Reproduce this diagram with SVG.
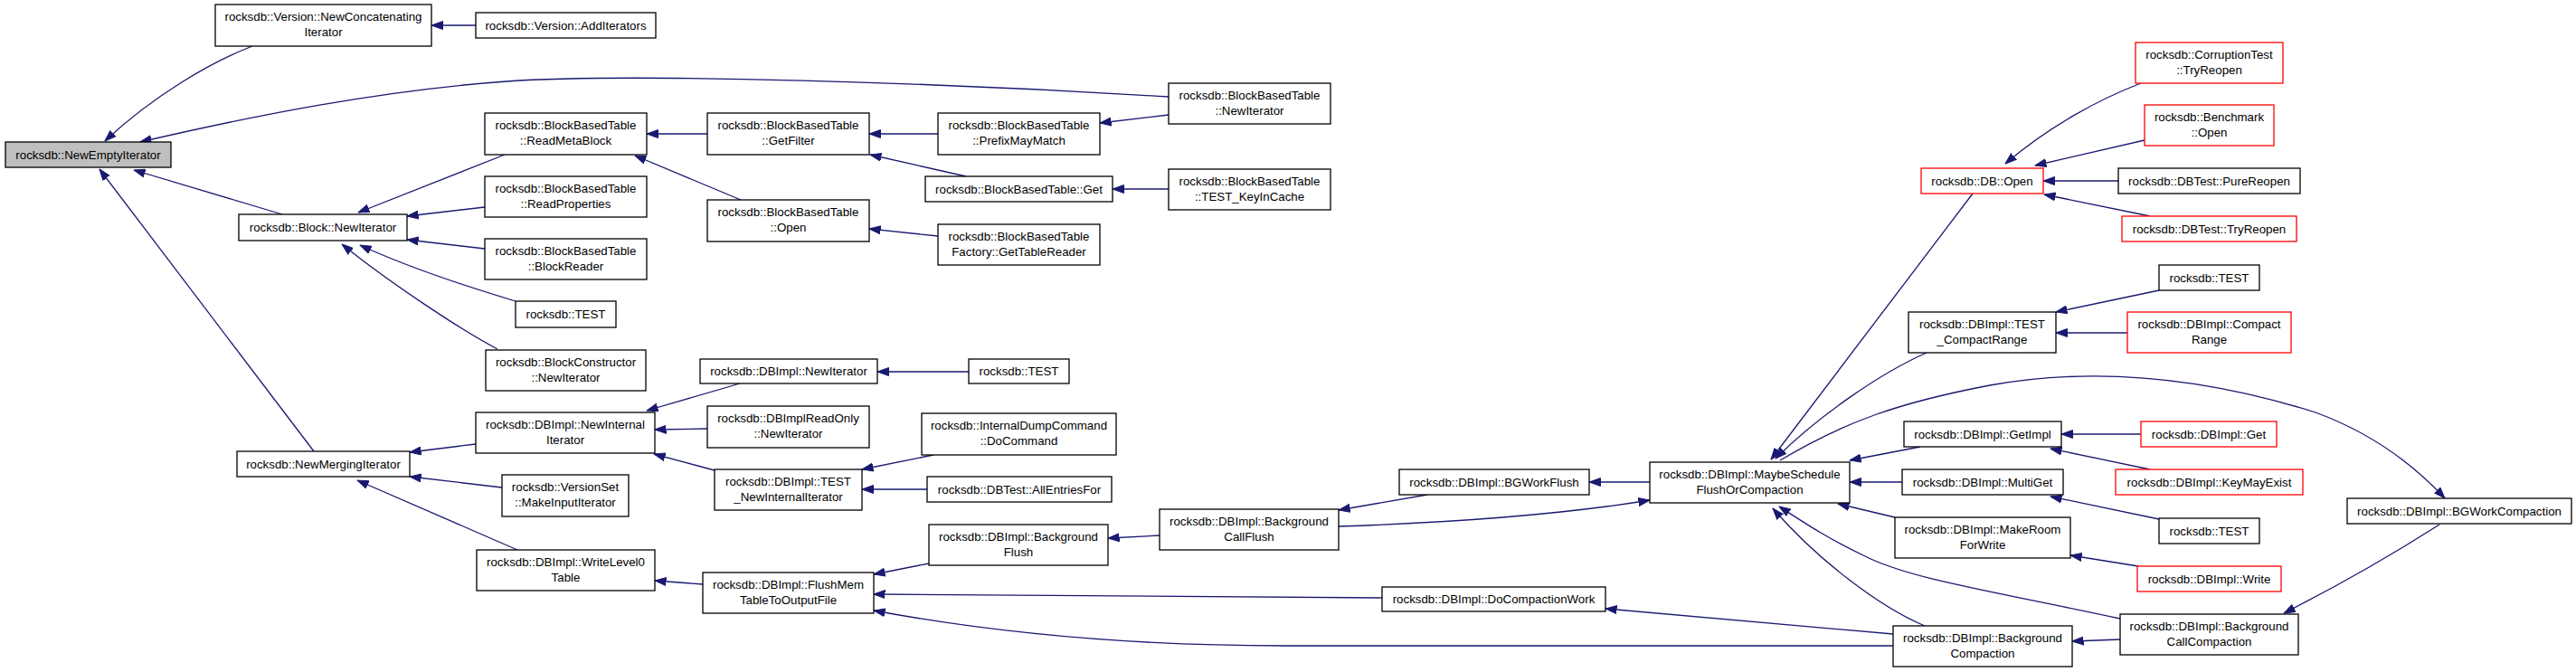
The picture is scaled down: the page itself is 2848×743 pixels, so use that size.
<svg xmlns="http://www.w3.org/2000/svg" width="2848" height="743" viewBox="0 0 2848 743">
<style>
.n rect{fill:#fff;stroke:#000;stroke-width:1.3}
.n.r rect{stroke:#ff0000}
.n.root rect{fill:#bfbfbf}
.n text{font-family:"Liberation Sans",Arial,sans-serif;font-size:13.3px;fill:#000;text-anchor:middle}
#edges path{fill:none;stroke:#191970;stroke-width:1.3;marker-end:url(#a)}
</style>
<defs>
<marker id="a" markerUnits="userSpaceOnUse" viewBox="0 0 13 10" markerWidth="13" markerHeight="10" refX="12.5" refY="5" orient="auto"><path d="M0,0.5 L12.5,5 L0,9.5z" fill="#191970" stroke="#191970" stroke-width="1"/></marker>
</defs>
<rect width="2848" height="743" fill="#fff"/>
<g id="edges">
<path d="M279,51 C235,68 170,105 116,156"/>
<path d="M1292,107 C1050,92 700,80 560,90 C420,100 280,128 155,157"/>
<path d="M312,237 L148,188"/>
<path d="M347,499 L110,187"/>
<path d="M526,28 L477,28"/>
<path d="M558,171 L396,235"/>
<path d="M536,229 L450,239"/>
<path d="M536,275 L450,265"/>
<path d="M570,333 C520,318 450,295 398,271"/>
<path d="M550,386 C510,365 430,312 378,270"/>
<path d="M782,148 L715,148"/>
<path d="M819,221 L702,172"/>
<path d="M1037,148 L961,148"/>
<path d="M1068,195 L962,171"/>
<path d="M1037,261 L961,253"/>
<path d="M1292,127 L1216,136"/>
<path d="M1292,209 L1230,209"/>
<path d="M526,491 L453,500"/>
<path d="M555,539 L453,527"/>
<path d="M572,608 L395,531"/>
<path d="M818,424 L715,454"/>
<path d="M782,474 L724,475"/>
<path d="M790,520 L723,502"/>
<path d="M1071,411 L970,411"/>
<path d="M1032,503 L953,519"/>
<path d="M1025,541 L953,541"/>
<path d="M777,646 L724,642"/>
<path d="M1027,623 L966,635"/>
<path d="M1528,661 C1300,660 1100,658 966,657"/>
<path d="M2093,714 L1420,714 C1250,714 1100,700 966,675"/>
<path d="M1282,592 L1225,595"/>
<path d="M1578,547 L1480,564"/>
<path d="M1824,533 L1757,533"/>
<path d="M1480,582 C1600,578 1720,570 1824,553"/>
<path d="M2093,701 L1775,673"/>
<path d="M2181,214 L1958,508"/>
<path d="M2130,390 C2080,412 2010,460 1963,507"/>
<path d="M1968,509 C2040,466 2100,445 2200,426 C2300,408 2420,412 2560,456 C2620,478 2665,510 2703,551"/>
<path d="M2123,494 L2045,509"/>
<path d="M2103,533 L2045,533"/>
<path d="M2095,572 L2032,557"/>
<path d="M2344,684 C2200,653 2110,640 2060,614 C2020,595 1995,578 1967,560"/>
<path d="M2128,692 C2080,672 2010,620 1960,562"/>
<path d="M2344,707 L2291,709"/>
<path d="M2697,580 C2650,610 2590,645 2525,678"/>
<path d="M2367,92 C2320,110 2265,140 2217,181"/>
<path d="M2371,155 L2250,183"/>
<path d="M2342,200 L2259,200"/>
<path d="M2377,239 L2260,215"/>
<path d="M2387,321 L2273,345"/>
<path d="M2352,368 L2273,368"/>
<path d="M2367,480 L2279,480"/>
<path d="M2377,519 L2267,496"/>
<path d="M2387,574 L2267,549"/>
<path d="M2364,626 L2289,614"/>
</g>
<g id="n0" class="n root"><rect x="6" y="157" width="183" height="28"/><text x="97.5" y="175.5">rocksdb::NewEmptyIterator</text></g>
<g id="n1" class="n"><rect x="238" y="5" width="239" height="46"/><text x="357.5" y="23">rocksdb::Version::NewConcatenating</text><text x="357.5" y="40">Iterator</text></g>
<g id="n2" class="n"><rect x="526" y="14" width="199" height="28"/><text x="625.5" y="32.5">rocksdb::Version::AddIterators</text></g>
<g id="n3" class="n"><rect x="1292" y="92" width="179" height="45"/><text x="1381.5" y="110">rocksdb::BlockBasedTable</text><text x="1381.5" y="127">::NewIterator</text></g>
<g id="n4" class="n"><rect x="264" y="237" width="186" height="29"/><text x="357" y="255.5">rocksdb::Block::NewIterator</text></g>
<g id="n5" class="n"><rect x="536" y="125" width="179" height="46"/><text x="625.5" y="143">rocksdb::BlockBasedTable</text><text x="625.5" y="160">::ReadMetaBlock</text></g>
<g id="n6" class="n"><rect x="536" y="195" width="179" height="45"/><text x="625.5" y="213">rocksdb::BlockBasedTable</text><text x="625.5" y="230">::ReadProperties</text></g>
<g id="n7" class="n"><rect x="536" y="264" width="179" height="45"/><text x="625.5" y="282">rocksdb::BlockBasedTable</text><text x="625.5" y="299">::BlockReader</text></g>
<g id="n8" class="n"><rect x="570" y="333" width="111" height="29"/><text x="625.5" y="351.5">rocksdb::TEST</text></g>
<g id="n9" class="n"><rect x="537" y="387" width="177" height="45"/><text x="625.5" y="405">rocksdb::BlockConstructor</text><text x="625.5" y="422">::NewIterator</text></g>
<g id="n10" class="n"><rect x="782" y="125" width="179" height="46"/><text x="871.5" y="143">rocksdb::BlockBasedTable</text><text x="871.5" y="160">::GetFilter</text></g>
<g id="n11" class="n"><rect x="782" y="221" width="179" height="46"/><text x="871.5" y="239">rocksdb::BlockBasedTable</text><text x="871.5" y="256">::Open</text></g>
<g id="n12" class="n"><rect x="1037" y="125" width="179" height="46"/><text x="1126.5" y="143">rocksdb::BlockBasedTable</text><text x="1126.5" y="160">::PrefixMayMatch</text></g>
<g id="n13" class="n"><rect x="1023" y="195" width="207" height="28"/><text x="1126.5" y="213.5">rocksdb::BlockBasedTable::Get</text></g>
<g id="n14" class="n"><rect x="1292" y="187" width="179" height="45"/><text x="1381.5" y="205">rocksdb::BlockBasedTable</text><text x="1381.5" y="222">::TEST_KeyInCache</text></g>
<g id="n15" class="n"><rect x="1037" y="248" width="179" height="45"/><text x="1126.5" y="266">rocksdb::BlockBasedTable</text><text x="1126.5" y="283">Factory::GetTableReader</text></g>
<g id="n16" class="n"><rect x="262" y="499" width="191" height="28"/><text x="357.5" y="517.5">rocksdb::NewMergingIterator</text></g>
<g id="n17" class="n"><rect x="526" y="456" width="198" height="45"/><text x="625" y="474">rocksdb::DBImpl::NewInternal</text><text x="625" y="491">Iterator</text></g>
<g id="n18" class="n"><rect x="555" y="525" width="140" height="46"/><text x="625" y="543">rocksdb::VersionSet</text><text x="625" y="560">::MakeInputIterator</text></g>
<g id="n19" class="n"><rect x="527" y="608" width="197" height="45"/><text x="625.5" y="626">rocksdb::DBImpl::WriteLevel0</text><text x="625.5" y="643">Table</text></g>
<g id="n20" class="n"><rect x="774" y="397" width="196" height="27"/><text x="872" y="415">rocksdb::DBImpl::NewIterator</text></g>
<g id="n21" class="n"><rect x="782" y="449" width="179" height="46"/><text x="871.5" y="467">rocksdb::DBImplReadOnly</text><text x="871.5" y="484">::NewIterator</text></g>
<g id="n22" class="n"><rect x="790" y="519" width="163" height="45"/><text x="871.5" y="537">rocksdb::DBImpl::TEST</text><text x="871.5" y="554">_NewInternalIterator</text></g>
<g id="n23" class="n"><rect x="777" y="633" width="189" height="45"/><text x="871.5" y="651">rocksdb::DBImpl::FlushMem</text><text x="871.5" y="668">TableToOutputFile</text></g>
<g id="n24" class="n"><rect x="1071" y="397" width="111" height="27"/><text x="1126.5" y="415">rocksdb::TEST</text></g>
<g id="n25" class="n"><rect x="1019" y="457" width="215" height="46"/><text x="1126.5" y="475">rocksdb::InternalDumpCommand</text><text x="1126.5" y="492">::DoCommand</text></g>
<g id="n26" class="n"><rect x="1025" y="527" width="204" height="28"/><text x="1127" y="545.5">rocksdb::DBTest::AllEntriesFor</text></g>
<g id="n27" class="n"><rect x="1027" y="580" width="198" height="45"/><text x="1126" y="598">rocksdb::DBImpl::Background</text><text x="1126" y="615">Flush</text></g>
<g id="n28" class="n"><rect x="1282" y="563" width="198" height="45"/><text x="1381" y="581">rocksdb::DBImpl::Background</text><text x="1381" y="598">CallFlush</text></g>
<g id="n29" class="n"><rect x="1547" y="519" width="210" height="28"/><text x="1652" y="537.5">rocksdb::DBImpl::BGWorkFlush</text></g>
<g id="n30" class="n"><rect x="1824" y="511" width="221" height="45"/><text x="1934.5" y="529">rocksdb::DBImpl::MaybeSchedule</text><text x="1934.5" y="546">FlushOrCompaction</text></g>
<g id="n31" class="n"><rect x="1528" y="649" width="247" height="27"/><text x="1651.5" y="667">rocksdb::DBImpl::DoCompactionWork</text></g>
<g id="n32" class="n r"><rect x="2124" y="186" width="135" height="28"/><text x="2191.5" y="204.5">rocksdb::DB::Open</text></g>
<g id="n33" class="n"><rect x="2110" y="345" width="163" height="45"/><text x="2191.5" y="363">rocksdb::DBImpl::TEST</text><text x="2191.5" y="380">_CompactRange</text></g>
<g id="n34" class="n"><rect x="2105" y="466" width="174" height="28"/><text x="2192" y="484.5">rocksdb::DBImpl::GetImpl</text></g>
<g id="n35" class="n"><rect x="2103" y="519" width="178" height="28"/><text x="2192" y="537.5">rocksdb::DBImpl::MultiGet</text></g>
<g id="n36" class="n"><rect x="2095" y="572" width="194" height="45"/><text x="2192" y="590">rocksdb::DBImpl::MakeRoom</text><text x="2192" y="607">ForWrite</text></g>
<g id="n37" class="n"><rect x="2093" y="692" width="198" height="45"/><text x="2192" y="710">rocksdb::DBImpl::Background</text><text x="2192" y="727">Compaction</text></g>
<g id="n38" class="n r"><rect x="2361" y="47" width="163" height="45"/><text x="2442.5" y="65">rocksdb::CorruptionTest</text><text x="2442.5" y="82">::TryReopen</text></g>
<g id="n39" class="n r"><rect x="2371" y="116" width="143" height="45"/><text x="2442.5" y="134">rocksdb::Benchmark</text><text x="2442.5" y="151">::Open</text></g>
<g id="n40" class="n"><rect x="2342" y="186" width="201" height="28"/><text x="2442.5" y="204.5">rocksdb::DBTest::PureReopen</text></g>
<g id="n41" class="n r"><rect x="2346" y="239" width="193" height="28"/><text x="2442.5" y="257.5">rocksdb::DBTest::TryReopen</text></g>
<g id="n42" class="n"><rect x="2387" y="293" width="111" height="28"/><text x="2442.5" y="311.5">rocksdb::TEST</text></g>
<g id="n43" class="n r"><rect x="2352" y="345" width="181" height="45"/><text x="2442.5" y="363">rocksdb::DBImpl::Compact</text><text x="2442.5" y="380">Range</text></g>
<g id="n44" class="n r"><rect x="2367" y="466" width="150" height="28"/><text x="2442" y="484.5">rocksdb::DBImpl::Get</text></g>
<g id="n45" class="n r"><rect x="2339" y="519" width="207" height="28"/><text x="2442.5" y="537.5">rocksdb::DBImpl::KeyMayExist</text></g>
<g id="n46" class="n"><rect x="2387" y="573" width="111" height="28"/><text x="2442.5" y="591.5">rocksdb::TEST</text></g>
<g id="n47" class="n r"><rect x="2363" y="626" width="159" height="28"/><text x="2442.5" y="644.5">rocksdb::DBImpl::Write</text></g>
<g id="n48" class="n"><rect x="2344" y="679" width="197" height="45"/><text x="2442.5" y="697">rocksdb::DBImpl::Background</text><text x="2442.5" y="714">CallCompaction</text></g>
<g id="n49" class="n"><rect x="2595" y="551" width="248" height="28"/><text x="2719" y="569.5">rocksdb::DBImpl::BGWorkCompaction</text></g>
</svg>
